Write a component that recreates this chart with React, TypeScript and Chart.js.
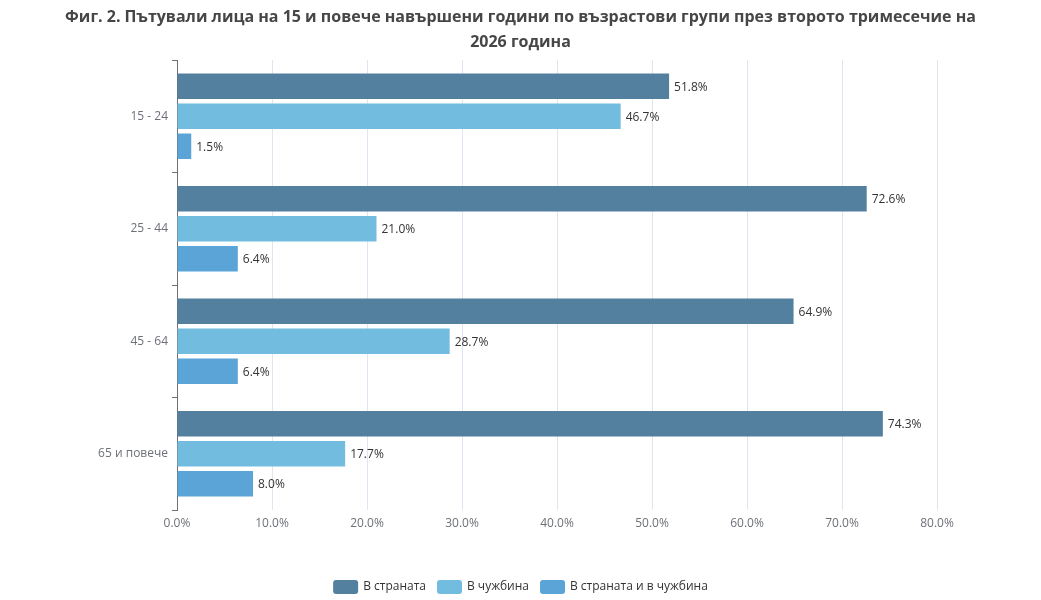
import React, { useEffect, useRef } from "react";
import { Chart, registerables } from "chart.js";

Chart.register(...registerables);

const categories = ["15 - 24", "25 - 44", "45 - 64", "65 и повече"];
const seriesNames = ["В страната", "В чужбина", "В страната и в чужбина"];
const domestic = [51.8, 72.6, 64.9, 74.3];
const abroad = [46.7, 21.0, 28.7, 17.7];
const both = [1.5, 6.4, 6.4, 8.0];
const colors = ["#54809f", "#71bcdf", "#5ba4d7"];
const titleLines = [
  "Фиг. 2. Пътували лица на 15 и повече навършени години по възрастови групи през второто тримесечие на",
  "2026 година",
];

const FONT = "'Open Sans', 'Noto Sans', sans-serif";

const titlePlugin = {
  id: "customTitle",
  afterDraw(chart: any) {
    const ctx = chart.ctx;
    ctx.save();
    ctx.fillStyle = "#464646";
    ctx.font = `bold 16px ${FONT}`;
    ctx.textAlign = "center";
    ctx.textBaseline = "middle";
    const cx = chart.width / 2;
    ctx.fillText(titleLines[0], cx, 17);
    ctx.fillText(titleLines[1], cx, 42);
    ctx.restore();
  },
};

const legendPlugin = {
  id: "customLegend",
  afterDraw(chart: any) {
    const ctx = chart.ctx;
    ctx.save();
    ctx.font = `12px ${FONT}`;
    ctx.textBaseline = "middle";
    ctx.textAlign = "left";
    const boxW = 25;
    const boxH = 14;
    const gapText = 5;
    const gapItem = 11;
    const items = chart.data.datasets.map((ds: any) => ({
      label: ds.label,
      color: ds.backgroundColor,
      w: boxW + gapText + ctx.measureText(ds.label).width,
    }));
    const total = items.reduce((a: number, it: any) => a + it.w, 0) + gapItem * (items.length - 1);
    let x = chart.width / 2 - total / 2;
    const cy = 587;
    items.forEach((it: any) => {
      ctx.fillStyle = it.color;
      ctx.beginPath();
      (ctx as any).roundRect(x, cy - boxH / 2, boxW, boxH, 3);
      ctx.fill();
      ctx.fillStyle = "#333333";
      ctx.fillText(it.label, x + boxW + gapText, cy);
      x += it.w + gapItem;
    });
    ctx.restore();
  },
};

const labelPlugin = {
  id: "barLabels",
  afterDatasetsDraw(chart: any) {
    const ctx = chart.ctx;
    ctx.save();
    ctx.fillStyle = "#333333";
    ctx.font = `12px ${FONT}`;
    ctx.textAlign = "left";
    ctx.textBaseline = "middle";
    chart.data.datasets.forEach((ds: any, di: number) => {
      const meta = chart.getDatasetMeta(di);
      if (meta.hidden) return;
      meta.data.forEach((el: any, i: number) => {
        const v = ds.data[i];
        ctx.fillText(v.toFixed(1) + "%", el.x + 5, el.y + 1);
      });
    });
    ctx.restore();
  },
};

export default function App() {
  const ref = useRef<HTMLCanvasElement | null>(null);
  useEffect(() => {
    document.body.style.margin = "0";
    if (!ref.current) return;
    const data = [domestic, abroad, both];
    const chart = new Chart(ref.current, {
      type: "bar",
      data: {
        labels: categories,
        datasets: seriesNames.map((n, i) => ({
          label: n,
          data: data[i],
          backgroundColor: colors[i],
          borderColor: colors[i],
          borderWidth: 0,
          categoryPercentage: 0.8,
          barPercentage: 0.85,
        })),
      },
      options: {
        indexAxis: "y",
        animation: false,
        responsive: false,
        maintainAspectRatio: false,
        layout: { padding: { top: 60, right: 104, left: 0, bottom: 0 } },
        plugins: {
          title: { display: false },
          tooltip: { enabled: false },
          legend: { display: false },
        },
        scales: {
          x: {
            min: 0,
            max: 80,
            ticks: {
              stepSize: 10,
              color: "#6e7079",
              padding: 6,
              font: { family: FONT, size: 12 },
              callback: (v: any) => Number(v).toFixed(1) + "%",
            },
            grid: { color: "#e0e6f1", drawTicks: false },
            border: { display: false },
            afterFit: (s: any) => {
              s.height = 90;
            },
          },
          y: {
            ticks: {
              color: "#6e7079",
              padding: 4,
              font: { family: FONT, size: 12 },
            },
            grid: {
              drawOnChartArea: false,
              drawTicks: true,
              tickLength: 5,
              color: "#6e7079",
              offset: true,
            },
            border: { display: true, color: "#6e7079" },
            afterFit: (s: any) => {
              s.width = 177;
            },
          },
        },
      },
      plugins: [titlePlugin, labelPlugin, legendPlugin],
    });
    return () => chart.destroy();
  }, []);
  return (
    <div style={{ width: 1041, height: 600 }}>
      <canvas ref={ref} width={1041} height={600} style={{ width: 1041, height: 600 }} />
    </div>
  );
}
